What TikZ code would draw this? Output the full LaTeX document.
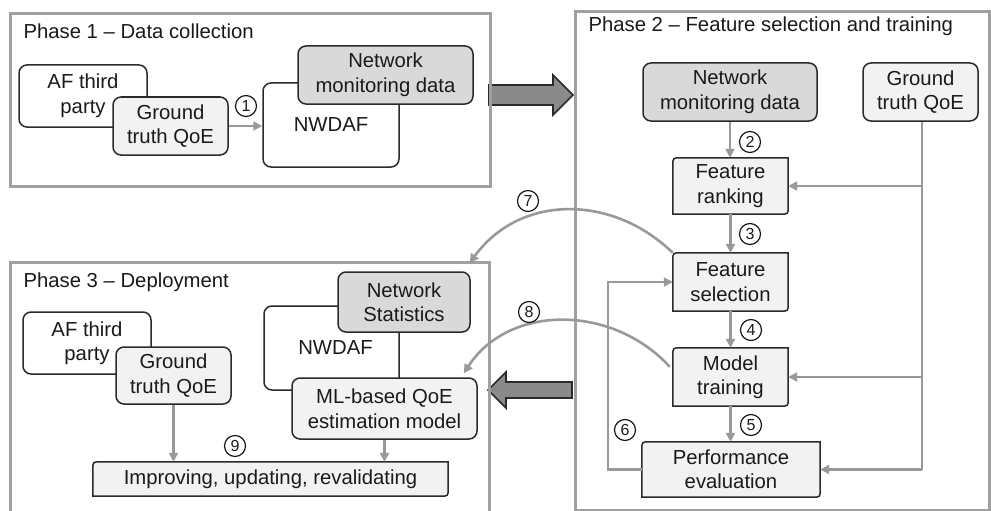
\documentclass[tikz,border=0pt]{standalone}
\usepackage{fontspec}
\setmainfont{Liberation Sans}
\usetikzlibrary{arrows.meta,calc}

\definecolor{framegray}{HTML}{A0A0A0}
\definecolor{linegray}{HTML}{999999}
\definecolor{boxline}{HTML}{2A2A2A}
\definecolor{lightfill}{HTML}{F2F2F2}
\definecolor{darkfill}{HTML}{D9D9D9}
\definecolor{bigarrow}{HTML}{8A8A8A}
\definecolor{inktext}{HTML}{1A1A1A}

\pgfdeclarelayer{background}
\pgfsetlayers{background,main}

% box with rounded top-left and bottom-right corners only
\newcommand\diagbox[2]{%
  \path[draw=boxline, line width=1.5pt, fill=#2]
    ($(#1.north west)+(0,8)$) .. controls (#1.north west) .. ($(#1.north west)+(8,0)$)
    -- (#1.north east) -- ($(#1.south east)+(0,-8)$)
    .. controls (#1.south east) .. ($(#1.south east)+(-8,0)$)
    -- (#1.south west) -- cycle;}

\begin{document}
\begin{tikzpicture}[x=1pt,y=-1pt,
  every node/.style={font=\fontsize{20.3}{24.5}\selectfont, text=inktext},
  phase/.style={draw=framegray, line width=2.6pt, inner sep=0pt, anchor=north west},
  box/.style={draw=boxline, line width=1.5pt, rounded corners=8pt, align=center, inner sep=0pt},
  lightbox/.style={box, fill=lightfill},
  darkbox/.style={box, fill=darkfill},
  whitebox/.style={box, fill=white},
  flatbox/.style={align=center, inner sep=0pt},
  flow/.style={draw=linegray, line width=2.6pt, -{Triangle[length=9pt,width=9pt]}},
  plain/.style={draw=linegray, line width=2.6pt},
  numcirc/.style={circle, draw=inktext, line width=1.2pt, minimum size=21pt, inner sep=0pt, font=\fontsize{16}{16}\selectfont},
  title/.style={anchor=base west}
]
\useasboundingbox (0,0) rectangle (991,511);
\clip (0,0) rectangle (991,511);

% ---------- big transition arrows ----------
\path[draw=boxline, line width=1.6pt, fill=bigarrow]
  (489,85) -- (553,85) -- (553,75) -- (573,95) -- (553,115) -- (553,105) -- (489,105) -- cycle;
\path[draw=boxline, line width=1.6pt, fill=bigarrow]
  (572,382) -- (506,382) -- (506,372) -- (488,390) -- (506,408) -- (506,398) -- (572,398) -- cycle;

% ---------- phase frames ----------
\node[phase, minimum width=480pt, minimum height=173pt] (p1) at (9,12) {};
\node[phase, minimum width=414pt, minimum height=499pt] (p2) at (574,10) {};
\node[phase, minimum width=479pt, minimum height=280pt] (p3) at (9,261) {};

\node[title] at (20,39) {Phase 1 -- Data collection};
\node[title] at (585,32) {Phase 2 -- Feature selection and training};
\node[title] at (20,287) {Phase 3 -- Deployment};

% ---------- phase 1 ----------
\node[whitebox, minimum width=128pt, minimum height=62pt] (af1) at (83,96) {AF third\\party};
\node[lightbox, minimum width=115pt, minimum height=58pt] (gt1) at (170.5,126) {Ground\\truth QoE};
\node[whitebox, minimum width=136pt, minimum height=84pt] (nw1) at (331,125) {NWDAF};
\node[darkbox, minimum width=175pt, minimum height=58pt] (nmd1) at (385.5,75) {Network\\monitoring data};
\draw[flow] (gt1.east) -- (gt1.east -| nw1.west);
\node[numcirc] (c1) at (246,106) {1};

% ---------- phase 2 ----------
\node[darkbox, minimum width=174pt, minimum height=58pt] (nmd2) at (730,92) {Network\\monitoring data};
\node[lightbox, minimum width=115pt, minimum height=58pt] (gt2) at (920.5,92) {Ground\\truth QoE};
\node[flatbox, minimum width=115pt, minimum height=56pt] (fr) at (730.5,186) {Feature\\ranking};
\node[flatbox, minimum width=115pt, minimum height=58pt] (fs) at (730.5,282) {Feature\\selection};
\node[flatbox, minimum width=115pt, minimum height=58pt] (mt) at (730.5,377) {Model\\training};
\node[flatbox, minimum width=178pt, minimum height=55pt] (pe) at (731,469.5) {Performance\\evaluation};

\draw[flow] (nmd2.south) -- (nmd2.south |- fr.north);
\draw[flow] (fr.south) -- (fs.north);
\draw[flow] (fs.south) -- (mt.north);
\draw[flow] (mt.south) -- (mt.south |- pe.north);

\coordinate (trunk) at (922,469.5);
\draw[plain] (gt2.south -| trunk) -- (trunk);
\draw[flow] (trunk |- fr.east) -- (fr.east);
\draw[flow] (trunk |- mt.east) -- (mt.east);
\draw[flow] (trunk) -- (pe.east);

\draw[flow] (pe.west) -- ++(-34,0) |- (fs.west);

\node[numcirc] (c2) at (750,142) {2};
\node[numcirc] (c3) at (750,234) {3};
\node[numcirc] (c4) at (751,330) {4};
\node[numcirc] (c5) at (751,425) {5};
\node[numcirc] (c6) at (625,430) {6};

% ---------- phase 3 ----------
\node[whitebox, minimum width=128pt, minimum height=62pt] (af3) at (87,343) {AF third\\party};
\node[lightbox, minimum width=115pt, minimum height=57pt] (gt3) at (173.5,375.5) {Ground\\truth QoE};
\node[whitebox, minimum width=135pt, minimum height=84pt, text width=135pt] (nw3) at (331.5,348) {NWDAF\hspace*{-8pt}};
\node[darkbox, minimum width=132pt, minimum height=60pt] (ns) at (404,302) {Network\\Statistics};
\node[lightbox, minimum width=185pt, minimum height=61pt] (ml) at (384.5,408.5) {ML-based QoE\\estimation model};
\node[flatbox, minimum width=355pt, minimum height=34pt] (imp) at (270.5,479) {Improving, updating, revalidating};

\draw[flow] (gt3.south) -- (gt3.south |- imp.north);
\draw[flow] (ml.south) -- (ml.south |- imp.north);
\node[numcirc] (c9) at (235,446) {9};

% ---------- deployment feedback curves ----------
\coordinate (p3in) at ($(p3.north east)+(-21,2)$);
\coordinate (mlin) at ($(ml.north east)+(-14,-4)$);
\coordinate (mtout) at ($(mt.north west)+(-3,19)$);
\draw[flow] (fs.north west) .. controls (612,194) and (520,194) .. (p3in);
\draw[flow] (mtout) .. controls (612,304) and (509,304) .. (mlin);
\node[numcirc] (c7) at (528,201) {7};
\node[numcirc] (c8) at (529,312) {8};

% ---------- outlines of the step boxes ----------
\begin{pgfonlayer}{background}
  \diagbox{fr}{lightfill}
  \diagbox{fs}{lightfill}
  \diagbox{mt}{lightfill}
  \diagbox{pe}{lightfill}
  \diagbox{imp}{lightfill}
\end{pgfonlayer}
\end{tikzpicture}
\end{document}
